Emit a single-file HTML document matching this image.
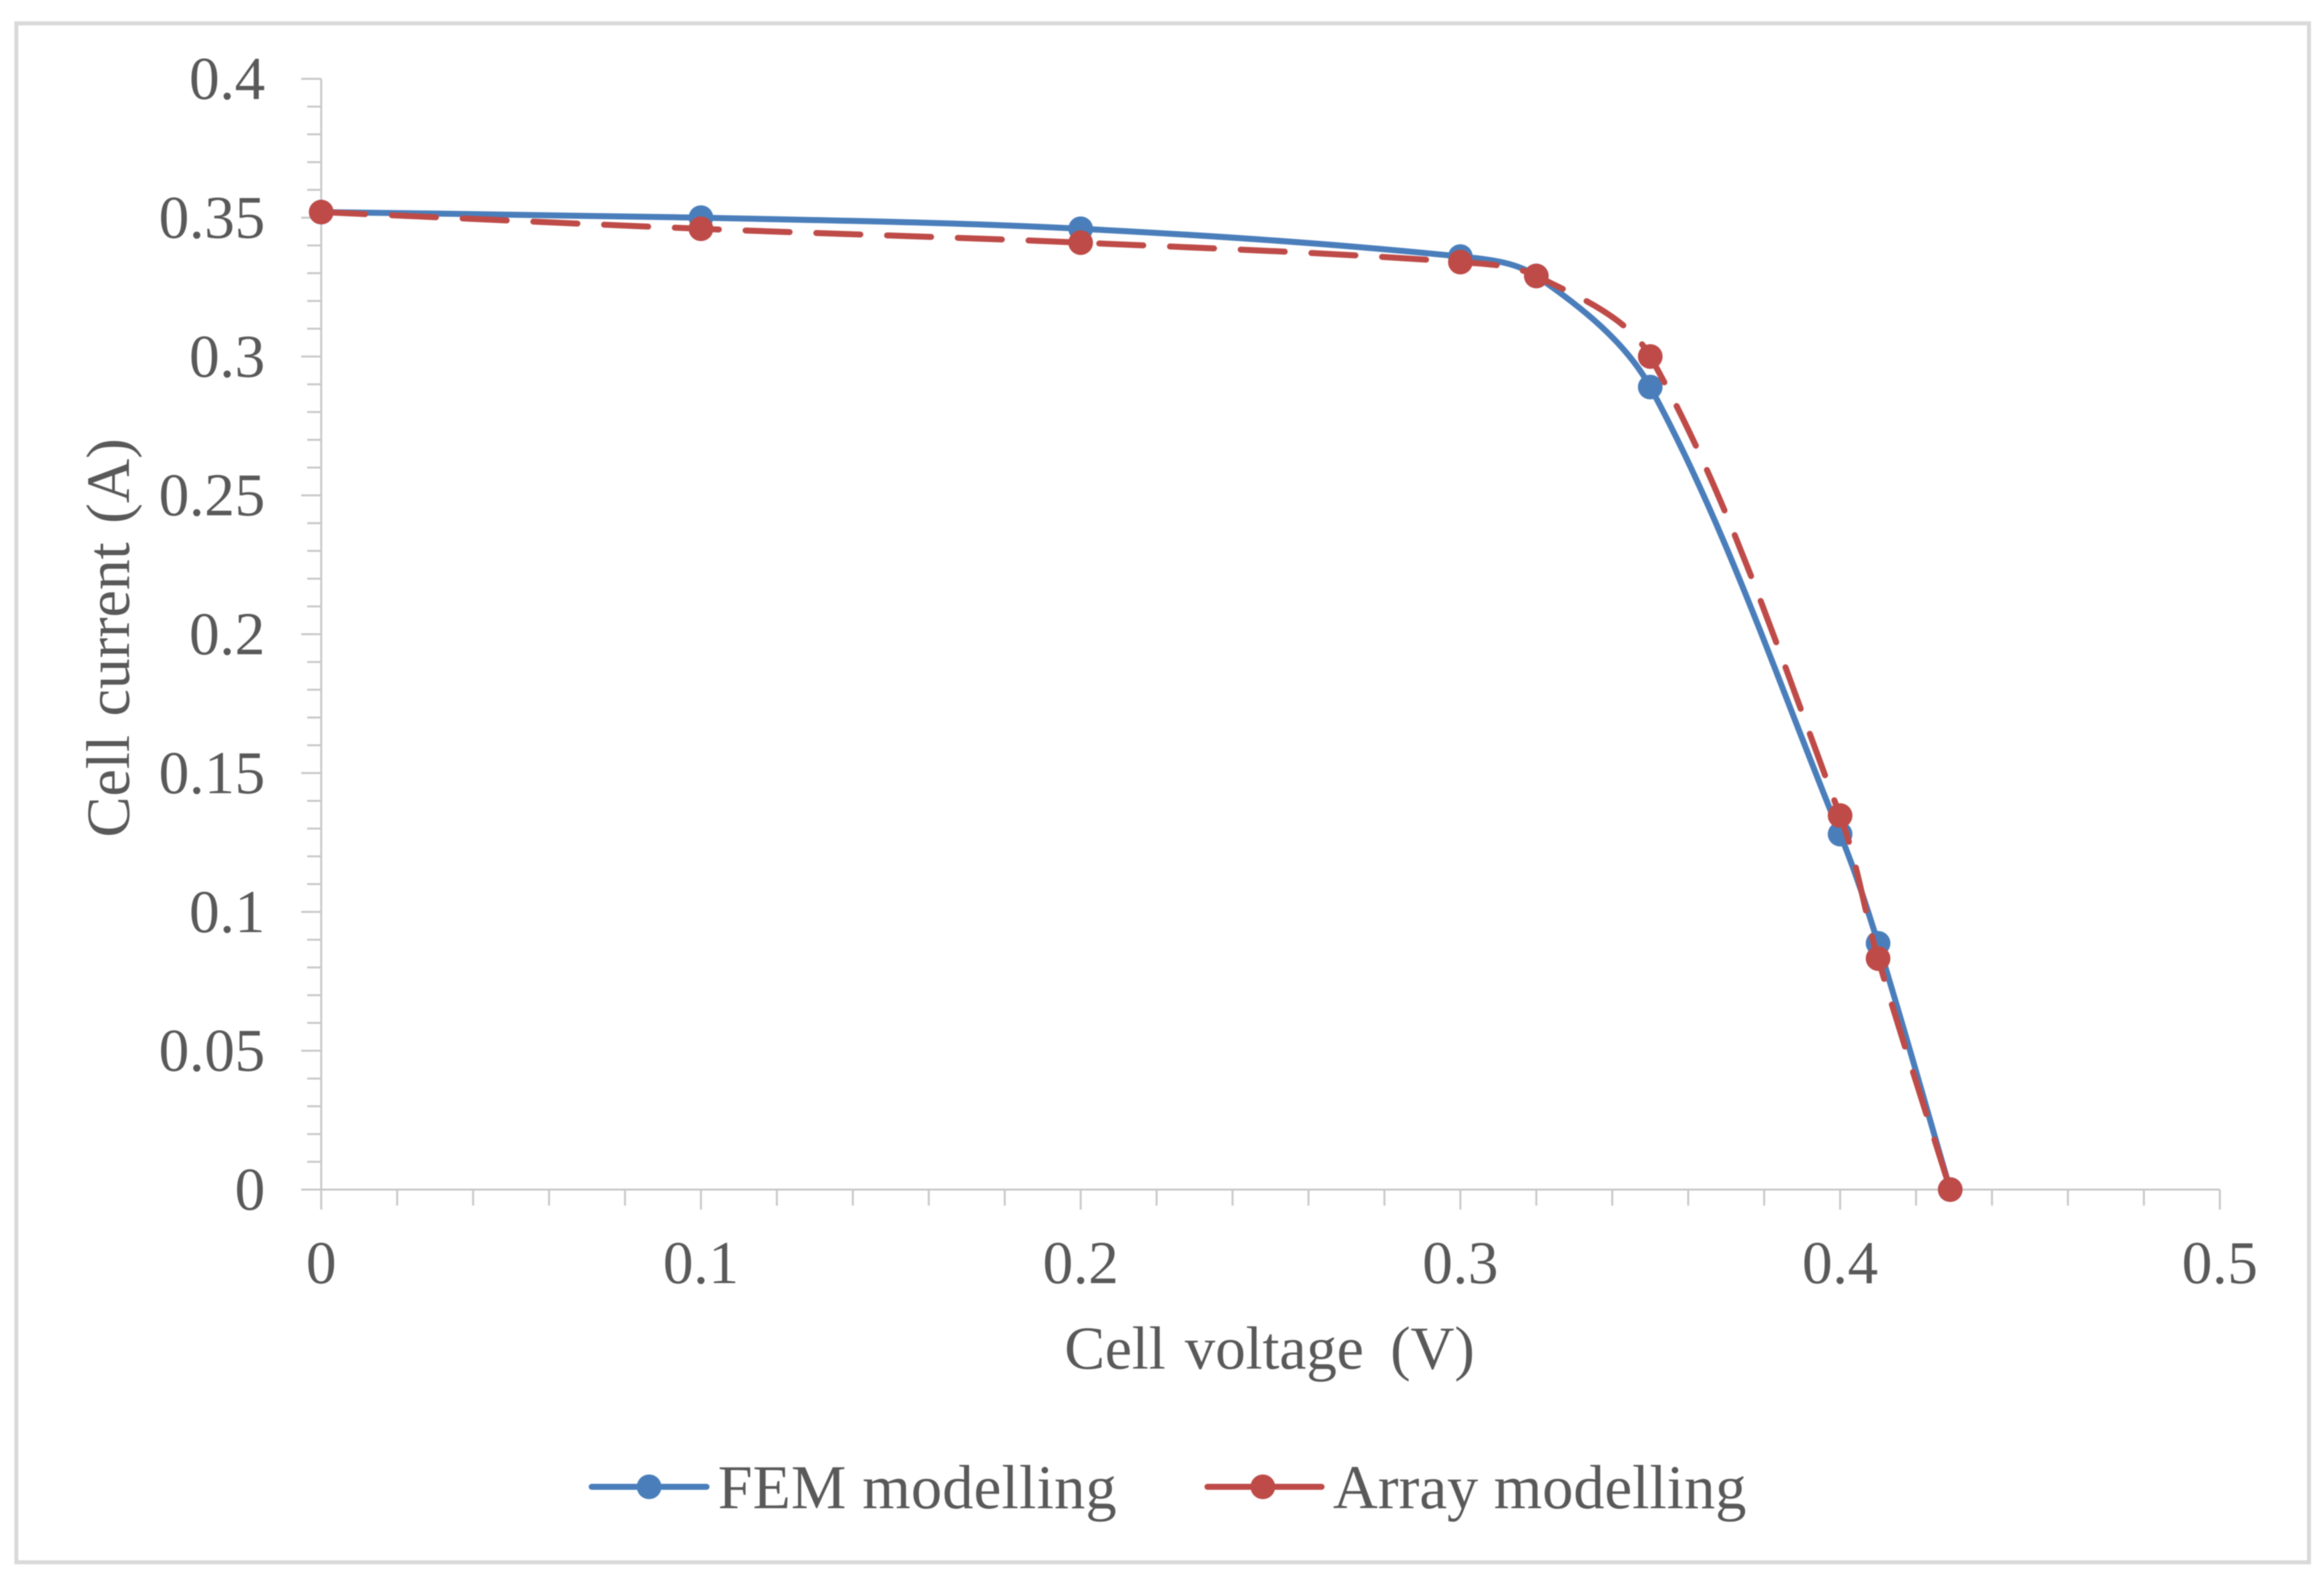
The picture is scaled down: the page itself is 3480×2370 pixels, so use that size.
<!DOCTYPE html>
<html lang="en">
<head>
<meta charset="utf-8">
<title>Cell current vs cell voltage</title>
<style>
html,body{margin:0;padding:0;background:#fff;width:3480px;height:2370px;overflow:hidden}
svg{display:block;filter:blur(0.8px)}
text{font-family:"Liberation Serif",serif;fill:#595959;font-size:93px}
.tick-text{font-size:91px}
</style>
</head>
<body>
<svg id="chart" xmlns="http://www.w3.org/2000/svg" width="3480" height="2370" viewBox="0 0 3480 2370">
  <rect x="0" y="0" width="3480" height="2370" fill="#ffffff"/>
  <rect x="24.5" y="35" width="3433" height="2304" fill="#ffffff" stroke="#d9d9d9" stroke-width="6"/>
  <g id="axes"></g>
  <g id="series"></g>
  <text x="1901" y="2049" text-anchor="middle" style="font-size:91px">Cell <tspan dx="6">voltage</tspan> <tspan dx="17">(V)</tspan></text>
  <text transform="translate(193 955) rotate(-90)" text-anchor="middle" style="font-size:92px;word-spacing:5px">Cell current (A)</text>
  <g id="legend"></g>
</svg>
<script>
var voltage = [0, 0.1, 0.2, 0.3, 0.32, 0.35, 0.4, 0.41, 0.429];
var femCurrent = [0.352, 0.35, 0.346, 0.336, 0.329, 0.289, 0.128, 0.0887, 0];
var arrayCurrent = [0.352, 0.346, 0.341, 0.334, 0.329, 0.3, 0.1347, 0.0832, 0];
var xTickValues = [0, 0.1, 0.2, 0.3, 0.4, 0.5];
var xTickLabels = ["0", "0.1", "0.2", "0.3", "0.4", "0.5"];
var yTickValues = [0, 0.05, 0.1, 0.15, 0.2, 0.25, 0.3, 0.35, 0.4];
var yTickLabels = ["0", "0.05", "0.1", "0.15", "0.2", "0.25", "0.3", "0.35", "0.4"];
var seriesNames = ["FEM modelling", "Array modelling"];

var NS = "http://www.w3.org/2000/svg";
var AXIS = "#c9c9c9", BLUE = "#4a7ebb", RED = "#be4b48";
var axes = document.getElementById("axes");
var seriesLayer = document.getElementById("series");
var legend = document.getElementById("legend");

function xScale(v) { return 481 + v * (3324 - 481) / 0.5; }
function yScale(v) { return 1781 - v * (1781 - 118) / 0.4; }

function make(tag, parent, attrs) {
  var el = document.createElementNS(NS, tag);
  for (var k in attrs) { el.setAttribute(k, attrs[k]); }
  parent.appendChild(el);
  return el;
}

function axisLine(x1, y1, x2, y2) {
  return make("line", axes, { x1: x1, y1: y1, x2: x2, y2: y2, stroke: AXIS, "stroke-width": 3 });
}

var xAxisLine = axisLine(xScale(0), yScale(0), xScale(0.5), yScale(0));


var yAxisLine = axisLine(xScale(0), yScale(0), xScale(0), yScale(0.4));



// minor ticks
for (var i = 1; i < 25; i++) {
  if (i % 5 === 0) continue;
  var mx = xScale(i * 0.02);
  var minorX = axisLine(mx, yScale(0), mx, yScale(0) + 24);
  
  
}
for (var j = 1; j < 40; j++) {
  if (j % 5 === 0) continue;
  var my = yScale(j * 0.01);
  var minorY = axisLine(xScale(0) - 21, my, xScale(0), my);
  
  
}

// major ticks and labels
xTickValues.forEach(function (v, idx) {
  var px = xScale(v);
  var t = axisLine(px, yScale(0), px, yScale(0) + 30);
  
  
  var lbl = make("text", axes, { x: px, y: 1921, "text-anchor": "middle", "class": "tick-text" });
  
  
  lbl.textContent = xTickLabels[idx];
});
yTickValues.forEach(function (v, idx) {
  var py = yScale(v);
  var t = axisLine(xScale(0) - 30, py, xScale(0), py);
  
  
  var lbl = make("text", axes, { x: 397, y: py + 30, "text-anchor": "end", "class": "tick-text" });
  
  
  lbl.textContent = yTickLabels[idx];
});

// smoothed path through the data points (chord-length weighted, spreadsheet-style)
function smoothPath(xs, ys) {
  var p = xs.map(function (v, i) { return [xScale(v), yScale(ys[i])]; });
  function dist(a, b) { return Math.hypot(a[0] - b[0], a[1] - b[1]); }
  var d = "M" + p[0][0] + " " + p[0][1];
  for (var i = 0; i < p.length - 1; i++) {
    var p0 = p[Math.max(i - 1, 0)], p1 = p[i], p2 = p[i + 1], p3 = p[Math.min(i + 2, p.length - 1)];
    var a = dist(p0, p1), b = dist(p1, p2), c = dist(p2, p3);
    var f1 = b / (3 * (a + b)), f2 = b / (3 * (b + c));
    var c1 = [p1[0] + (p2[0] - p0[0]) * f1, p1[1] + (p2[1] - p0[1]) * f1];
    var c2 = [p2[0] - (p3[0] - p1[0]) * f2, p2[1] - (p3[1] - p1[1]) * f2];
    d += "C" + c1[0] + " " + c1[1] + " " + c2[0] + " " + c2[1] + " " + p2[0] + " " + p2[1];
  }
  return d;
}

var femLine = make("path", seriesLayer, { d: smoothPath(voltage, femCurrent), fill: "none", stroke: BLUE, "stroke-width": 9, "stroke-linecap": "round" });


voltage.forEach(function (v, i) {
  var m = make("ellipse", seriesLayer, { cx: xScale(v), cy: yScale(femCurrent[i]), rx: 18.5, ry: 18.5, fill: BLUE });
  
  
});

var arrayLine = make("path", seriesLayer, { d: smoothPath(voltage, arrayCurrent), fill: "none", stroke: RED, "stroke-width": 9, "stroke-linecap": "round", "stroke-dasharray": "66 40" });


voltage.forEach(function (v, i) {
  var m = make("ellipse", seriesLayer, { cx: xScale(v), cy: yScale(arrayCurrent[i]), rx: 18.5, ry: 18.5, fill: RED });
  
  
});

// legend
var legendLineFem = make("line", legend, { x1: 886, y1: 2226, x2: 1058, y2: 2226, stroke: BLUE, "stroke-width": 9, "stroke-linecap": "round" });


var legendDotFem = make("circle", legend, { cx: 972, cy: 2226, r: 18.5, fill: BLUE });


var legendTextFem = make("text", legend, { x: 1075, y: 2258, textLength: 597 });


legendTextFem.textContent = seriesNames[0];

var legendLineArr = make("line", legend, { x1: 1808, y1: 2226, x2: 1979, y2: 2226, stroke: RED, "stroke-width": 9, "stroke-linecap": "round" });


var legendDotArr = make("circle", legend, { cx: 1891, cy: 2226, r: 18.5, fill: RED });


var legendTextArr = make("text", legend, { x: 1996, y: 2258, textLength: 619 });


legendTextArr.textContent = seriesNames[1];
</script>
</body>
</html>
